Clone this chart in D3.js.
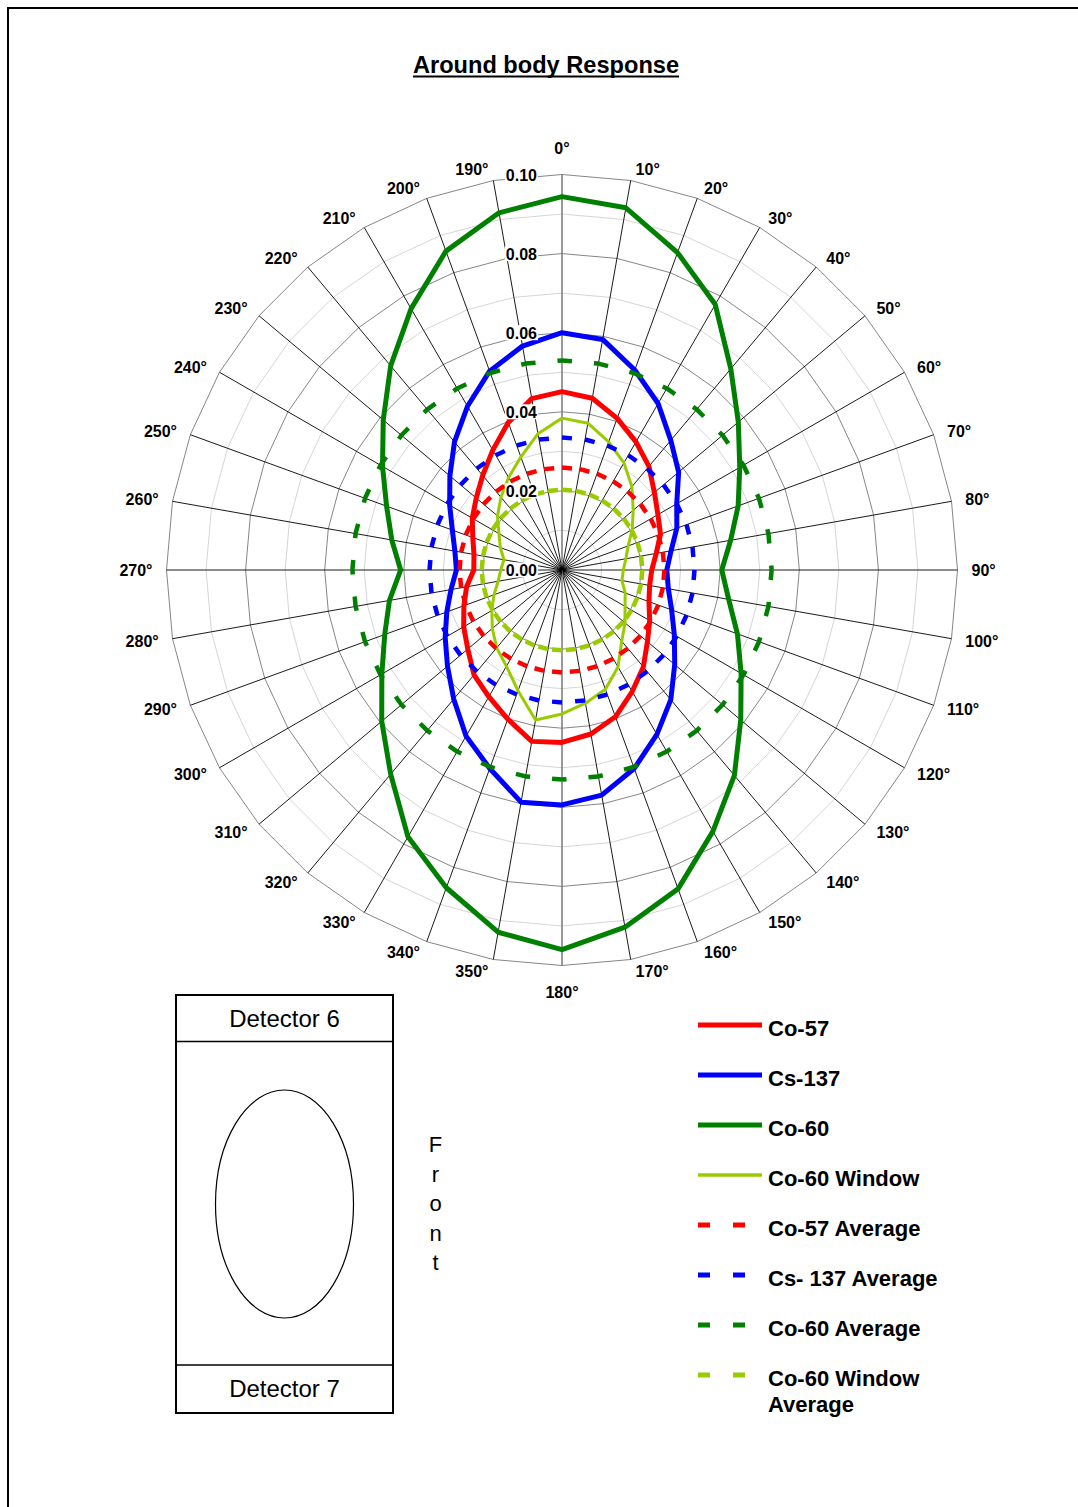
<!DOCTYPE html>
<html><head><meta charset="utf-8">
<script src="https://cdn.jsdelivr.net/npm/d3@7"></script>
<style>
body{margin:0;background:#fff}
svg{display:block}
text{font-family:"Liberation Sans",Arial,Helvetica,sans-serif;fill:#000}
</style>
</head><body>
<svg id="c" width="1078" height="1507"></svg>
<script>
// ---- data (category order = position clockwise from top) ----
const categories = [0,10,20,30,40,50,60,70,80,90,100,110,120,130,140,150,160,170,180,
                    350,340,330,320,310,300,290,280,270,260,250,240,230,220,210,200,190];
const co57 = [0.0451,0.0441,0.0408,0.0374,0.0342,0.0305,0.0280,0.0265,0.0242,0.0227,
              0.0225,0.0234,0.0256,0.0282,0.0320,0.0355,0.0395,0.0421,0.0436,0.0440,
              0.0401,0.0370,0.0346,0.0311,0.0287,0.0264,0.0245,0.0223,0.0226,0.0240,
              0.0262,0.0283,0.0312,0.0350,0.0397,0.0440];
const cs137 = [0.0600,0.0592,0.0538,0.0486,0.0428,0.0385,0.0335,0.0309,0.0280,0.0265,
               0.0273,0.0295,0.0328,0.0372,0.0428,0.0480,0.0534,0.0578,0.0594,0.0596,
               0.0534,0.0485,0.0426,0.0378,0.0341,0.0310,0.0285,0.0267,0.0275,0.0295,
               0.0328,0.0370,0.0423,0.0478,0.0535,0.0575];
const co60 = [0.0944,0.0930,0.0854,0.0775,0.0664,0.0582,0.0519,0.0474,0.0433,0.0404,
              0.0428,0.0472,0.0523,0.0590,0.0678,0.0763,0.0858,0.0917,0.0960,0.0930,
              0.0855,0.0779,0.0674,0.0595,0.0526,0.0477,0.0443,0.0408,0.0437,0.0472,
              0.0524,0.0590,0.0674,0.0763,0.0858,0.0917];
const co60Window = [0.0384,0.0377,0.0345,0.0313,0.0275,0.0235,0.0205,0.0178,0.0164,0.0155,
                    0.0154,0.0170,0.0184,0.0208,0.0235,0.0283,0.0321,0.0342,0.0364,0.0385,
                    0.0325,0.0281,0.0257,0.0230,0.0205,0.0183,0.0164,0.0155,0.0149,0.0166,
                    0.0184,0.0213,0.0240,0.0270,0.0304,0.0350];
const co57Avg = 0.0259;
const cs137Avg = 0.0335;
const co60Avg = 0.0530;
const co60WindowAvg = 0.0203;
const valueTicks = [0.00,0.02,0.04,0.06,0.08,0.10];
const seriesNames = ["Co-57","Cs-137","Co-60","Co-60 Window","Co-57 Average","Cs- 137 Average","Co-60 Average","Co-60 Window|Average"];
const seriesColors = ["#FF0000","#0000FF","#008000","#99CC00","#FF0000","#0000FF","#008000","#99CC00"];

// ---- layout ----
const cx = 562, cy = 570, R = 395.5;
const svg = d3.select("#c");

// page frame
svg.append("rect").attr("x",8).attr("y",8).attr("width",1200).attr("height",1600)
  .attr("fill","none").attr("stroke","#000").attr("stroke-width",2);

// title
const title = svg.append("text").attr("x",546).attr("y",73).attr("text-anchor","middle")
  .attr("font-size",23.6).attr("font-weight","bold").text("Around body Response");
const tw = title.node().getComputedTextLength();
svg.append("line").attr("x1",546-tw/2).attr("x2",546+tw/2).attr("y1",76.5).attr("y2",76.5)
  .attr("stroke","#000").attr("stroke-width",2);

const r = d3.scaleLinear().domain([0,0.10]).range([0,R]);
const ang = d3.scaleLinear().domain([0,categories.length]).range([0,2*Math.PI]);
const g = svg.append("g").attr("transform",`translate(${cx},${cy})`);

// grid rings
const gridLevels = d3.range(1,11).map(k=>k/100);
gridLevels.forEach((lv,k)=>{
  const ring = d3.lineRadial().angle((d,i)=>ang(i)).radius(r(lv)).curve(d3.curveLinearClosed);
  g.append("path").attr("d",ring(categories)).attr("fill","none")
    .attr("stroke",(k%2===1)?"#868686":"#d6d6d6").attr("stroke-width",1);
});
// spokes
categories.forEach((c,i)=>{
  const [x,y] = d3.pointRadial(ang(i),R);
  const axis = (c===0||c===180);
  g.append("line").attr("x1",0).attr("y1",0).attr("x2",x).attr("y2",y)
    .attr("stroke",axis?"#777":"#000").attr("stroke-width",axis?1.5:0.9);
});

// solid series
const solid = [
  {values:co57,color:seriesColors[0],w:5},
  {values:cs137,color:seriesColors[1],w:5},
  {values:co60,color:seriesColors[2],w:5},
  {values:co60Window,color:seriesColors[3],w:3}
];
const radial = d3.lineRadial().angle((d,i)=>ang(i)).radius(d=>r(d)).curve(d3.curveLinearClosed);
solid.forEach(s=>{
  g.append("path").attr("d",radial(s.values)).attr("fill","none")
    .attr("stroke",s.color).attr("stroke-width",s.w).attr("stroke-linejoin","round");
});

// dashed average series (dash pattern restarts at each vertex)
const avgs = [
  {v:co57Avg,color:seriesColors[4]},
  {v:cs137Avg,color:seriesColors[5]},
  {v:co60Avg,color:seriesColors[6]},
  {v:co60WindowAvg,color:seriesColors[7]}
];
avgs.forEach(a=>{
  const vals = categories.map(()=>a.v);
  const n = vals.length;
  vals.forEach((v,i)=>{
    const p0 = d3.pointRadial(ang(i),r(v));
    const p1 = d3.pointRadial(ang(i+1),r(vals[(i+1)%n]));
    g.append("line").attr("x1",p0[0]).attr("y1",p0[1]).attr("x2",p1[0]).attr("y2",p1[1])
      .attr("stroke",a.color).attr("stroke-width",4.5).attr("stroke-dasharray","10,22");
  });
});

// value labels with white background
valueTicks.forEach(v=>{
  const y = -r(v);
  const t = g.append("text").attr("x",-25).attr("y",y+6).attr("text-anchor","end")
    .attr("font-size",16).attr("font-weight","bold").text(v.toFixed(2));
  const bb = t.node().getBBox();
  g.insert("rect","text").attr("x",bb.x-1).attr("y",y-7.5).attr("width",bb.width+2).attr("height",15)
    .attr("fill","#fff");
});
g.selectAll("text").raise();

// angle labels
categories.forEach((c,i)=>{
  const a = ang(i);
  const [ex,ey] = d3.pointRadial(a,R);
  const s = Math.sin(a), co = Math.cos(a);
  let x,y,anchor;
  if (c===0){ x=ex; y=ey-20.5; anchor="middle"; }
  else if (c===180){ x=ex; y=ey+32.5; anchor="middle"; }
  else {
    const dx = 4 + 11*Math.abs(s);
    x = s>0 ? ex+dx-1 : ex-dx+1;
    anchor = s>0 ? "start" : "end";
    y = ey - 11.5*co + 6;
  }
  g.append("text").attr("x",x).attr("y",y).attr("text-anchor",anchor)
    .attr("font-size",16).attr("font-weight","bold").text(c+"°");
});

// ---- detector diagram ----
const dg = svg.append("g");
dg.append("rect").attr("x",176).attr("y",995).attr("width",217).attr("height",418)
  .attr("fill","none").attr("stroke","#000").attr("stroke-width",2);
dg.append("line").attr("x1",176).attr("x2",393).attr("y1",1041.5).attr("y2",1041.5).attr("stroke","#000").attr("stroke-width",1.3);
dg.append("line").attr("x1",176).attr("x2",393).attr("y1",1365).attr("y2",1365).attr("stroke","#000").attr("stroke-width",1.3);
dg.append("ellipse").attr("cx",284.5).attr("cy",1204).attr("rx",69).attr("ry",114)
  .attr("fill","none").attr("stroke","#000").attr("stroke-width",1.2);
dg.append("text").attr("x",284.5).attr("y",1026.5).attr("text-anchor","middle").attr("font-size",24).text("Detector 6");
dg.append("text").attr("x",284.5).attr("y",1397).attr("text-anchor","middle").attr("font-size",24).text("Detector 7");
"Front".split("").forEach((ch,i)=>{
  dg.append("text").attr("x",435.5).attr("y",1152+i*29.6).attr("text-anchor","middle").attr("font-size",22).text(ch);
});

// ---- legend ----
const lg = svg.append("g");
seriesNames.forEach((name,i)=>{
  const y = 1025 + i*50;
  const dashed = i>=4;
  lg.append("line").attr("x1",698).attr("x2",762).attr("y1",y).attr("y2",y)
    .attr("stroke",seriesColors[i]).attr("stroke-width",(i===3)?3.5:5)
    .attr("stroke-dasharray",dashed?"12,23":null);
  const lines = name.split("|");
  const t = lg.append("text").attr("x",768).attr("y",y+11).attr("font-size",22).attr("font-weight","bold");
  lines.forEach((ln,k)=>{
    t.append("tspan").attr("x",768).attr("dy",k===0?0:26).text(ln);
  });
});
</script>
</body></html>
